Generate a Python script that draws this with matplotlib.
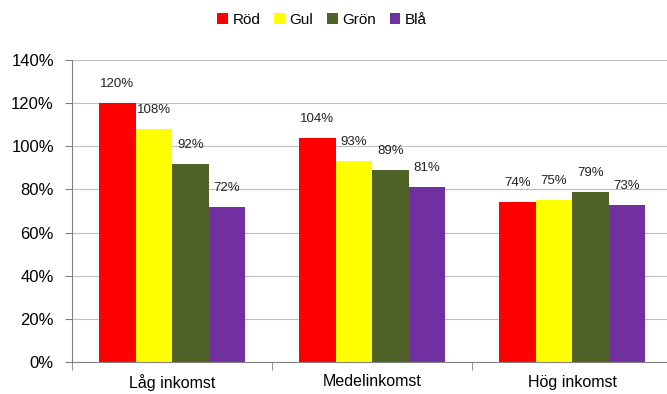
import numpy as np
import matplotlib.pyplot as plt
from matplotlib.ticker import FuncFormatter

plt.rcParams['font.family'] = ['Liberation Sans Narrow', 'Liberation Sans', 'DejaVu Sans']

categories = ['Låg inkomst', 'Medelinkomst', 'Hög inkomst']
series = ['Röd', 'Gul', 'Grön', 'Blå']
colors = ['#FF0000', '#FFFF00', '#4F6228', '#7030A0']
rod = [120, 104, 74]
gul = [108, 93, 75]
gron = [92, 89, 79]
bla = [72, 81, 73]
values = [rod, gul, gron, bla]

fig = plt.figure(figsize=(6.67, 3.94), dpi=100)
ax = fig.add_axes([72 / 667, 1 - 362 / 394, 600 / 667, 302 / 394])

x = np.arange(len(categories))
bw = 0.73 / 4
for i, (name, vals, c) in enumerate(zip(series, values, colors)):
    pos = x - 0.365 + bw * (i + 0.5)
    ax.bar(pos, vals, width=bw, color=c, label=name, zorder=2)
    for p, v in zip(pos, vals):
        ax.annotate(f'{v}%', (p, v), xytext=(0, 19), textcoords='offset pixels',
                    ha='center', va='center', fontsize=9.5, color='#222222')

ax.set_xlim(-0.5, 2.5)
ax.set_ylim(0, 140)
ax.set_yticks(range(0, 141, 20))
ax.yaxis.set_major_formatter(FuncFormatter(lambda v, _: f'{v:.0f}%'))
ax.grid(axis='y', color='#BFBFBF', linewidth=0.8, zorder=0)

ax.set_xticks(x)
ax.set_xticklabels(categories)
ax.set_xticks([-0.5, 0.5, 1.5, 2.5], minor=True)
ax.tick_params(axis='x', which='major', length=0, pad=9, labelsize=11.5)
ax.tick_params(axis='x', which='minor', length=6, color='#808080')
ax.tick_params(axis='y', length=5, color='#808080', labelsize=12, pad=8)

for s in ['top', 'right']:
    ax.spines[s].set_visible(False)
ax.spines['left'].set_color('#808080')
ax.spines['bottom'].set_color('#808080')

fig.legend(loc='center', bbox_to_anchor=(322 / 667, 1 - 20 / 394), ncol=4, frameon=False,
           fontsize=11, handlelength=0.7, handleheight=0.7, handletextpad=0.3,
           columnspacing=0.9)

fig.savefig('out.png', dpi=100)
